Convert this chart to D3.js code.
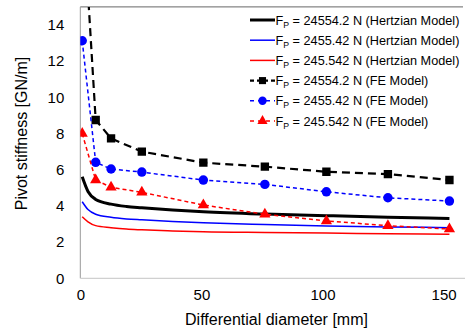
<!DOCTYPE html>
<html><head><meta charset="utf-8">
<script src="https://cdn.jsdelivr.net/npm/d3@7/dist/d3.min.js"></script>
<style>body{margin:0;background:#fff;}svg{display:block;font-family:"Liberation Sans",Arial,sans-serif;}</style>
</head><body><svg id="c" width="465" height="331"></svg>
<script>
// Data
const hertzX = [0.79, 3.175, 6.35, 12.7, 19.05, 25.4, 38.1, 50.8, 76.2, 101.6, 127, 152.4];
const hertzBlack = [5.61, 4.8, 4.36, 4.1, 3.97, 3.9, 3.78, 3.68, 3.55, 3.46, 3.38, 3.31];
const hertzBlue  = [4.23, 3.8, 3.54, 3.37, 3.28, 3.23, 3.14, 3.07, 2.97, 2.89, 2.84, 2.80];
const hertzRed   = [3.40, 3.12, 2.91, 2.80, 2.72, 2.68, 2.62, 2.57, 2.53, 2.50, 2.46, 2.43];
const feX = [0.79, 6.35, 12.7, 25.4, 50.8, 76.2, 101.6, 127, 152.4];
const feBlack = [21.0, 8.75, 7.73, 7.0, 6.39, 6.17, 5.89, 5.76, 5.43];
const feBlue  = [13.13, 6.41, 6.04, 5.87, 5.43, 5.19, 4.78, 4.45, 4.27];
const feRed   = [8.0, 5.43, 5.03, 4.75, 4.05, 3.54, 3.17, 2.91, 2.72];
const xTicks = [0, 50, 100, 150];
const yTicks = [0, 2, 4, 6, 8, 10, 12, 14];
const legendLabels = [
  ["24554.2 N (Hertzian Model)"], ["2455.42 N (Hertzian Model)"], ["245.542 N (Hertzian Model)"],
  ["24554.2 N (FE Model)"], ["2455.42 N (FE Model)"], ["245.542 N (FE Model)"]
];
const xTitle = "Differential diameter [mm]";
const yTitle = "Pivot stiffness [GN/m]";

const svg = d3.select("#c");
const L = 80.3, R = 463, T = 6.9, B = 278.3;
const x = d3.scaleLinear().domain([0, 158]).range([L, R]);
const y = d3.scaleLinear().domain([0, 15]).range([B, T]);

svg.append("defs").append("clipPath").attr("id","clip")
  .append("rect").attr("x", L).attr("y", T).attr("width", R - L).attr("height", B - T);

// borders
svg.append("line").attr("x1", L).attr("x2", R).attr("y1", T).attr("y2", T).attr("stroke", "#666").attr("stroke-width", 1);
svg.append("line").attr("x1", L).attr("x2", L).attr("y1", T).attr("y2", B).attr("stroke", "#999").attr("stroke-width", 1);
svg.append("line").attr("x1", L).attr("x2", 465).attr("y1", B).attr("y2", B).attr("stroke", "#d0d0d0").attr("stroke-width", 1.2);

// axes (labels only)
const xAxis = d3.axisBottom(x).tickValues(xTicks).tickSize(0).tickPadding(11).tickFormat(d3.format("d"));
const gx = svg.append("g").attr("transform", `translate(0,${B})`).call(xAxis);
gx.select(".domain").remove();
gx.selectAll("text").attr("font-size", 15).attr("fill", "#000").attr("font-family", "Liberation Sans, Arial, sans-serif");
const yAxis = d3.axisLeft(y).tickValues(yTicks).tickSize(0).tickPadding(16).tickFormat(d3.format("d"));
const gy = svg.append("g").attr("transform", `translate(${L},0)`).call(yAxis);
gy.select(".domain").remove();
gy.selectAll("text").attr("font-size", 15).attr("fill", "#000").attr("font-family", "Liberation Sans, Arial, sans-serif");

svg.append("text").attr("x", 276.5).attr("y", 325).attr("text-anchor", "middle").attr("font-size", 16).text(xTitle);
svg.append("text").attr("transform", "translate(27,133.5) rotate(-90)").attr("text-anchor", "middle").attr("font-size", 16).text(yTitle);

const plot = svg.append("g").attr("clip-path", "url(#clip)");
const smooth = d3.line().x(d => x(d[0])).y(d => y(d[1])).curve(d3.curveMonotoneX);
const straight = d3.line().x(d => x(d[0])).y(d => y(d[1]));

const hertz = [
  {v: hertzBlack, c: "#000", w: 3},
  {v: hertzBlue, c: "#0000ff", w: 1.5},
  {v: hertzRed, c: "#ff0000", w: 1.5}
];
hertz.forEach(s => {
  plot.append("path").datum(hertzX.map((xx, i) => [xx, s.v[i]]))
    .attr("d", smooth).attr("fill", "none").attr("stroke", s.c).attr("stroke-width", s.w);
});

const fe = [
  {v: feBlack, c: "#000", w: 2.2, dash: "8,5", sym: d3.symbolSquare, size: 70},
  {v: feBlue, c: "#0000ff", w: 1.5, dash: "4,3", sym: d3.symbolCircle, size: 70},
  {v: feRed, c: "#ff0000", w: 1.5, dash: "4,3", sym: d3.symbolTriangle, size: 55}
];
fe.forEach(s => {
  const pts = feX.map((xx, i) => [xx, s.v[i]]);
  plot.append("path").datum(pts).attr("d", straight).attr("fill", "none")
    .attr("stroke", s.c).attr("stroke-width", s.w).attr("stroke-dasharray", s.dash);
  plot.selectAll(null).data(pts).enter().append("path")
    .attr("transform", d => `translate(${x(d[0])},${y(d[1])})`)
    .attr("d", d3.symbol().type(s.sym).size(s.size)).attr("fill", s.c);
});

// legend
const legY0 = 20, legDy = 20.2;
const legStyles = [
  {c: "#000", w: 3}, {c: "#0000ff", w: 1.5}, {c: "#ff0000", w: 1.5},
  {c: "#000", w: 2.2, dash: "4,3", sym: d3.symbolSquare, size: 50},
  {c: "#0000ff", w: 1.5, dash: "4,4", sym: d3.symbolCircle, size: 55},
  {c: "#ff0000", w: 1.5, dash: "4,4", sym: d3.symbolTriangle, size: 45}
];
legendLabels.forEach((lab, i) => {
  const st = legStyles[i];
  const yy = legY0 + i * legDy;
  const g = svg.append("g");
  g.append("line").attr("x1", 250).attr("x2", 275).attr("y1", yy).attr("y2", yy)
    .attr("stroke", st.c).attr("stroke-width", st.w).attr("stroke-dasharray", st.dash || null);
  if (st.sym) g.append("path").attr("transform", `translate(262.5,${yy})`)
    .attr("d", d3.symbol().type(st.sym).size(st.size)).attr("fill", st.c);
  const t = g.append("text").attr("x", 275.5).attr("y", yy + 4.6).attr("font-size", 12.7);
  t.append("tspan").text("F");
  t.append("tspan").attr("font-size", 8.7).attr("dy", 3).text("P");
  t.append("tspan").attr("dy", -3).text(" = " + lab[0]);
});
</script></body></html>
